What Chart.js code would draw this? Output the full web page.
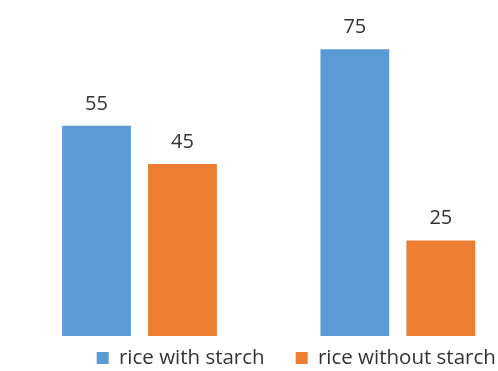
<!DOCTYPE html>
<html>
<head>
<meta charset="utf-8">
<script src="https://cdn.jsdelivr.net/npm/chart.js@4"></script>
<style>
  html, body { margin: 0; padding: 0; background: #fff; overflow: hidden; }
  #wrap { position: relative; width: 590px; height: 398px; }
</style>
</head>
<body>
<div id="wrap"><canvas id="c"></canvas></div>
<script>
const categories = ["Group 1", "Group 2"];
const seriesNames = ["rice with starch", "rice without starch"];
const withStarch = [55, 75];
const withoutStarch = [45, 25];
const colors = ["#5B9BD5", "#ED7D31"];

const valueLabels = {
  id: 'valueLabels',
  afterDatasetsDraw(chart) {
    const ctx = chart.ctx;
    ctx.save();
    ctx.font = '20px "Open Sans"';
    ctx.fillStyle = '#333333';
    ctx.textAlign = 'center';
    ctx.textBaseline = 'alphabetic';
    chart.data.datasets.forEach((ds, i) => {
      const meta = chart.getDatasetMeta(i);
      meta.data.forEach((bar, j) => {
        ctx.fillText(String(ds.data[j]), bar.x, bar.y - 16);
      });
    });
    ctx.restore();
  }
};

// shift the legend to its place under the plot
const legendPlace = {
  id: 'legendPlace',
  afterLayout(chart) {
    const lg = chart.legend;
    if (!lg) return;
    const dx = 27.6;
    lg.left += dx; lg.right += dx;
    lg.top -= 19.25; lg.bottom -= 19.25;
  }
};

new Chart(document.getElementById('c'), {
  type: 'bar',
  data: {
    labels: categories,
    datasets: [
      { label: seriesNames[0], data: withStarch, backgroundColor: colors[0] },
      { label: seriesNames[1], data: withoutStarch, backgroundColor: colors[1] }
    ]
  },
  options: {
    responsive: true,
    maintainAspectRatio: false,
    animation: false,
    layout: { padding: { left: 10.3, right: 63, top: 30, bottom: 0.5 } },
    datasets: { bar: { categoryPercentage: 0.6656, barPercentage: 0.8 } },
    scales: {
      x: { display: false },
      y: { display: false, min: 0, max: 80 }
    },
    plugins: {
      tooltip: { enabled: false },
      legend: {
        position: 'bottom',
        labels: {
          boxWidth: 12, boxHeight: 12,
          color: '#333333',
          padding: 31,
          font: { family: 'Open Sans', size: 20.5 }
        }
      }
    }
  },
  plugins: [valueLabels, legendPlace]
});
</script>
</body>
</html>
